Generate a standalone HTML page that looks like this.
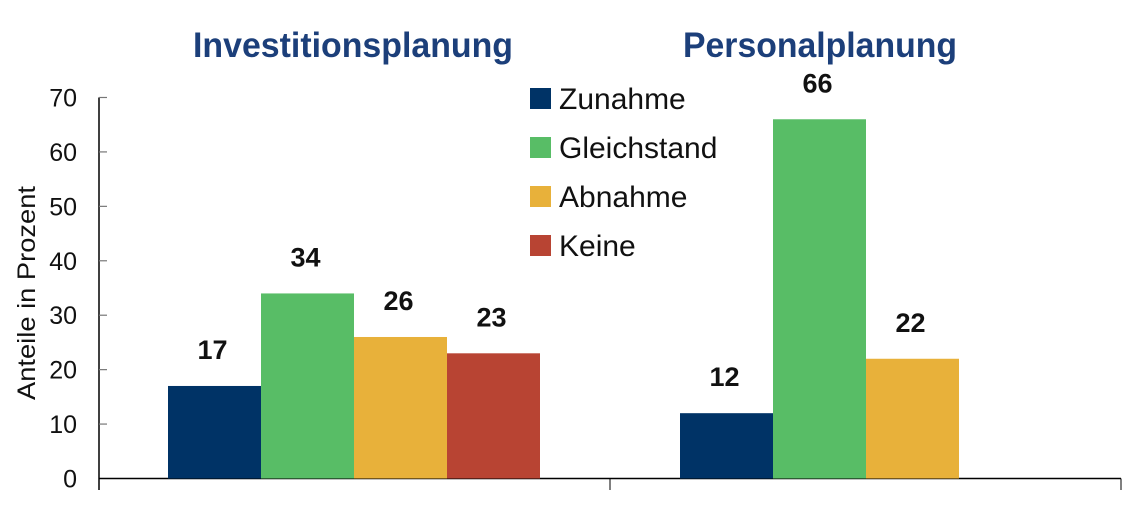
<!DOCTYPE html>
<html><head><meta charset="utf-8"><style>
body{margin:0;background:#fff;}
svg{display:block;font-family:"Liberation Sans",Arial,sans-serif;}
</style></head><body>
<svg id="c" width="1123" height="517">
<text x="353" y="57" text-anchor="middle" font-size="35" font-weight="bold" fill="#1c3f7a" textLength="320" lengthAdjust="spacingAndGlyphs">Investitionsplanung</text>
<text x="820" y="57" text-anchor="middle" font-size="35" font-weight="bold" fill="#1c3f7a" textLength="274" lengthAdjust="spacingAndGlyphs">Personalplanung</text>
<text transform="translate(35,293) rotate(-90)" text-anchor="middle" font-size="25" fill="#111" textLength="214" lengthAdjust="spacingAndGlyphs">Anteile in Prozent</text>
<g id="axes"></g><g id="bars"></g><g id="legend"></g>
</svg>
<script>
const categories=["Investitionsplanung","Personalplanung"];
const seriesNames=["Zunahme","Gleichstand","Abnahme","Keine"];
const zunahme=[17,12];
const gleichstand=[34,66];
const abnahme=[26,22];
const keine=[23,null];
const yTicks=[0,10,20,30,40,50,60,70];
const colors=["#003366","#58bd66","#e8b13a","#b84433"];
const NS="http://www.w3.org/2000/svg";
const x0=99,catW=511,y0=478.5,pxPer=5.443,barW=93,off=69;
const y=v=>y0-v*pxPer;
function mk(t,a,p){const e=document.createElementNS(NS,t);for(const k in a)e.setAttribute(k,a[k]);p.appendChild(e);return e;}
const ax=document.getElementById('axes');
let l=mk('line',{x1:x0,y1:y(70),x2:x0,y2:490,stroke:'#000','stroke-width':1.5},ax);


l=mk('line',{x1:x0,y1:y0,x2:x0+catW*2,y2:y0,stroke:'#000','stroke-width':1.5},ax);


for(let i=1;i<=categories.length;i++){const t=mk('line',{x1:x0+catW*i,y1:y0,x2:x0+catW*i,y2:490,stroke:'#000','stroke-width':1},ax);

}
yTicks.forEach(v=>{if(v>0){const t=mk('line',{x1:x0,y1:y(v),x2:x0+8,y2:y(v),stroke:'#777','stroke-width':1.2},ax);

}
const tx=mk('text',{x:77,y:y(v)+9,'text-anchor':'end','font-size':25,fill:'#111'},ax);tx.textContent=v;

});
const series=[zunahme,gleichstand,abnahme,keine];
const bg=document.getElementById('bars');
categories.forEach((c,ci)=>{series.forEach((s,si)=>{const v=s[ci];if(v==null)return;
const bx=x0+catW*ci+off+barW*si+(ci?1:0);
const r=mk('rect',{x:bx,y:y(v),width:barW,height:y0-y(v),fill:colors[si]},bg);


const t=mk('text',{x:bx+barW/2-2,y:y(v)-27,'text-anchor':'middle','font-size':27,'font-weight':'bold',fill:'#111'},bg);t.textContent=v;

});});
const lg=document.getElementById('legend');
seriesNames.forEach((n,i)=>{const yy=98+i*49;
const r=mk('rect',{x:530,y:yy-10,width:21,height:21,fill:colors[i]},lg);


const t=mk('text',{x:559,y:yy+11,'font-size':30,fill:'#111'},lg);t.textContent=n;

});
</script>
</body></html>
